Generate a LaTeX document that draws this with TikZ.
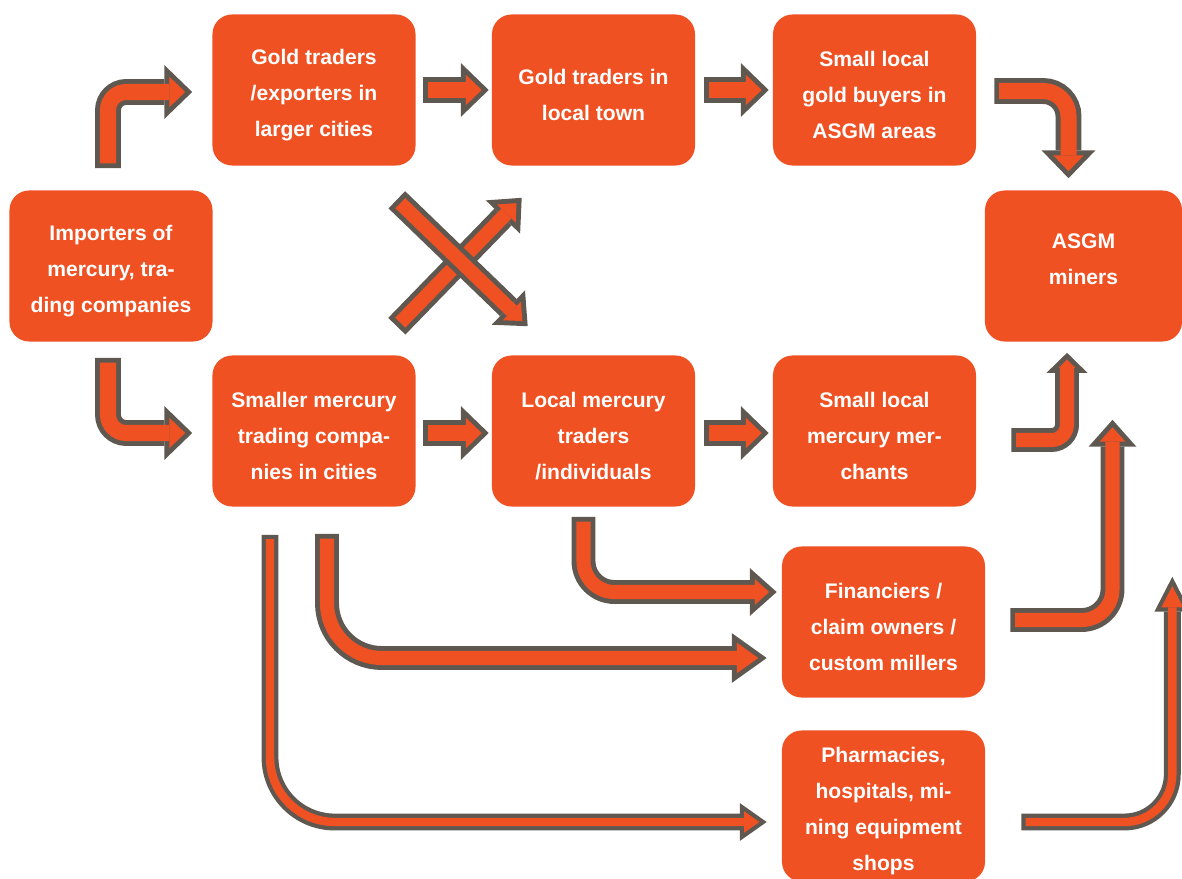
\documentclass[tikz,border=0pt]{standalone}
\usepackage{fontspec}
\setmainfont{Liberation Sans}
\usetikzlibrary{arrows.meta,calc}
\definecolor{boxorange}{HTML}{F05123}
\definecolor{arrgray}{HTML}{5E5851}
\newcommand{\topstrut}{\rule{0pt}{18pt}}
\tikzset{
  box/.style={fill=boxorange,rounded corners=14pt,minimum width=5.075cm,minimum height=3.775cm,
    inner sep=0pt,text=white,align=center,font=\fontsize{15pt}{25.5pt}\selectfont\bfseries},
  blk/.style n args={8}{draw=arrgray,line width=#1,-{Triangle[length=#2,width=#3,line width=0pt]},
    postaction={draw=boxorange,line width=#4,shorten <=#5,shorten >=#6,-{Triangle[length=#7,width=#8,line width=0pt]}}},
  bigarr/.style={blk={18.4pt}{19.8pt}{38.3pt}{11.4pt}{3.5pt}{5pt}{11.3pt}{21.8pt}},
  medarr/.style={blk={17pt}{19.1pt}{34pt}{10pt}{3.5pt}{5.3pt}{10.3pt}{18.4pt}},
  medsharp/.style={blk={17pt}{24.8pt}{35.4pt}{10pt}{3.5pt}{6pt}{15.3pt}{21.8pt}},
  medshort/.style={blk={17pt}{14.2pt}{29pt}{10pt}{3.5pt}{4.9pt}{5.8pt}{11.9pt}},
  thinarr/.style={blk={12pt}{19.1pt}{26.9pt}{6pt}{3pt}{5.2pt}{10.9pt}{15.3pt}},
  thinsharp/.style={blk={12pt}{24.8pt}{25.5pt}{6pt}{3pt}{6.6pt}{15.2pt}{15.7pt}}
}
\begin{document}
\begin{tikzpicture}[x=0.025cm,y=-0.025cm]
\useasboundingbox (0,0) rectangle (1182,879);
\clip (0,0) rectangle (1182,879);
\node[box] (imp) at (111,266) {\topstrut Importers of\\mercury, tra-\\ding companies};
\node[box] (gex) at (314,90) {\topstrut Gold traders\\/exporters in\\larger cities};
\node[box] (glt) at (593.5,90) {\topstrut Gold traders in\\local town};
\node[box] (gbuy) at (874.5,90) {\topstrut Small local\\gold buyers in\\ASGM areas};
\node[box,minimum width=4.925cm] (asgm) at (1083.5,266) {ASGM\\miners\rule[-10pt]{0pt}{10pt}};
\node[box] (smc) at (314,431) {\topstrut Smaller mercury\\trading compa-\\nies in cities};
\node[box] (lmt) at (593.5,431) {\topstrut Local mercury\\traders\\/individuals};
\node[box] (smm) at (874.5,431) {\topstrut Small local\\mercury mer-\\chants};
\node[box] (fin) at (883.5,622) {\topstrut Financiers /\\claim owners /\\custom millers};
\node[box] (pha) at (883.5,806) {\topstrut Pharmacies,\\hospitals, mi-\\ning equipment\\shops};
\draw[bigarr,rounded corners=13pt] ($(imp.north)+(-3,-22)$) |- ($(gex.west)+(-20,2)$);
\draw[bigarr] ($(gex.east)+(7,0)$) -- ($(glt.west)+(-3,0)$);
\draw[bigarr] ($(glt.east)+(9,0)$) -- ($(gbuy.west)+(-4,0)$);
\draw[bigarr,rounded corners=18pt] ($(gbuy.east)+(18,1)$) -| ($(asgm.north)+(-15,-12)$);
\draw[medarr] ($(smc.north east)+(-19,-29)$) -- ($(glt.south west)+(30,32)$);
\draw[medarr] ($(gex.south east)+(-19,34)$) -- ($(lmt.north west)+(36,-29)$);
\draw[bigarr,rounded corners=13pt] ($(imp.south)+(-3,16)$) |- ($(smc.west)+(-20,2)$);
\draw[bigarr] ($(smc.east)+(7,2)$) -- ($(lmt.west)+(-3,2)$);
\draw[bigarr] ($(lmt.east)+(9,2)$) -- ($(smm.west)+(-4,2)$);
\draw[medshort,rounded corners=11pt] ($(smm.east)+(35,9)$) -| ($(asgm.south)+(-16.5,11)$);
\draw[medarr,rounded corners=22pt] ($(fin.east)+(25,-2)$) -| ($(asgm.south)+(29,78)$);
\draw[thinsharp,rounded corners=34pt] ($(pha.east)+(36,16)$) -| ($(asgm.south east)+(-10,235)$);
\draw[medarr,rounded corners=22pt] ($(lmt.south)+(-10,10)$) |- ($(fin.west)+(-5,-30)$);
\draw[medsharp,rounded corners=39pt] ($(smc.south)+(13,27)$) |- ($(fin.west)+(-15,36)$);
\draw[thinarr,rounded corners=46pt] ($(smc.south)+(-44,28)$) |- ($(pha.west)+(-15,16)$);
\end{tikzpicture}
\end{document}
